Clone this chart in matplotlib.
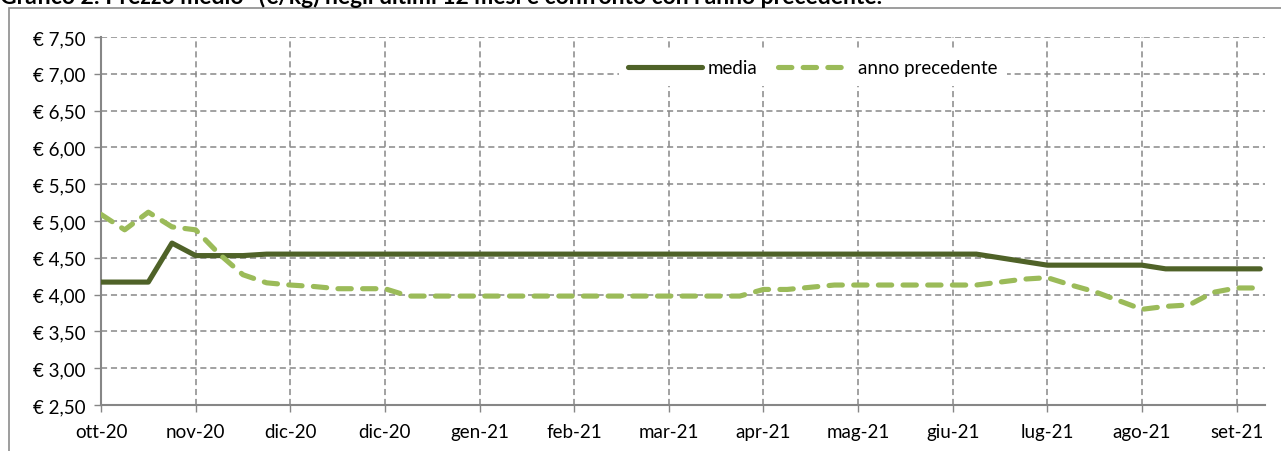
import numpy as np
import matplotlib.pyplot as plt
from matplotlib.patches import Rectangle

# weekly average price (EUR/kg), last 12 months vs previous year
media = [4.17, 4.17, 4.17, 4.70, 4.53, 4.53, 4.53, 4.55, 4.55, 4.55,
         4.55, 4.55, 4.55, 4.55, 4.55, 4.55, 4.55, 4.55, 4.55, 4.55,
         4.55, 4.55, 4.55, 4.55, 4.55, 4.55, 4.55, 4.55, 4.55, 4.55,
         4.55, 4.55, 4.55, 4.55, 4.55, 4.55, 4.55, 4.55, 4.50, 4.45,
         4.40, 4.40, 4.40, 4.40, 4.40, 4.35, 4.35, 4.35, 4.35, 4.35]
anno_precedente = [5.09, 4.88, 5.12, 4.92, 4.88, 4.55, 4.27, 4.16, 4.13, 4.11,
                   4.08, 4.08, 4.08, 3.98, 3.98, 3.98, 3.98, 3.98, 3.98, 3.98,
                   3.98, 3.98, 3.98, 3.98, 3.98, 3.98, 3.98, 3.98, 4.07, 4.07,
                   4.10, 4.13, 4.13, 4.13, 4.13, 4.13, 4.13, 4.13, 4.17, 4.21,
                   4.23, 4.13, 4.04, 3.92, 3.80, 3.84, 3.86, 4.03, 4.09, 4.09]
tick_labels = ["ott-20", "nov-20", "dic-20", "dic-20", "gen-21", "feb-21", "mar-21",
               "apr-21", "mag-21", "giu-21", "lug-21", "ago-21", "set-21"]
y_ticks = np.arange(2.5, 7.51, 0.5)

plt.rcParams["font.family"] = ["Lato", "DejaVu Sans"]

fig = plt.figure(figsize=(12.81, 4.52), dpi=100)
ax = fig.add_axes([101 / 1281, 1 - 406 / 452, (1265 - 101) / 1281, (406 - 38) / 452])

# chart frame and title (clipped at the top, as in the source page)
fig.patches.append(Rectangle((9 / 1281, -0.1), 1.1, 1 - 9 / 452 + 0.1, transform=fig.transFigure,
                             fill=False, edgecolor="#8c8c8c", linewidth=1.2))
fig.text(0.0, 1 - 4 / 452, "Grafico 2: Prezzo medio* (€/kg) negli ultimi 12 mesi e confronto con l'anno precedente.",
         fontsize=16.5, fontweight="bold", color="black", va="baseline", ha="left")

x = np.arange(len(media))
ax.plot(x, media, color="#4f6228", linewidth=3.7, solid_capstyle="round",
        solid_joinstyle="round", label="media", zorder=3)
ax.plot(x, anno_precedente, color="#9bbb59", linewidth=3.7, linestyle=(0, (2.6, 2.2)),
        dash_capstyle="round", label="anno precedente", zorder=3)

ax.set_xlim(0, len(media) - 0.8)
ax.set_ylim(2.5, 7.5)
ax.set_xticks(np.arange(0, len(media), 4))
ax.set_xticklabels(tick_labels)
ax.set_yticks(y_ticks)
ax.set_yticklabels(["€ " + f"{v:.2f}".replace(".", ",") for v in y_ticks])

grid_kw = dict(color="#878787", linewidth=1.1, linestyle=(0, (4, 2.5)))
ax.grid(True, **grid_kw)
ax.set_axisbelow(True)
for side in ["top", "right"]:
    ax.spines[side].set_visible(False)
for side in ["left", "bottom"]:
    ax.spines[side].set_color("#868686")
    ax.spines[side].set_linewidth(1.5)
ax.tick_params(axis="both", colors="#868686", labelcolor="black", labelsize=13.5, length=5, width=1)
ax.tick_params(axis="x", pad=8)
ax.tick_params(axis="y", pad=6)

leg = ax.legend(loc="upper left", bbox_to_anchor=(0.437, 0.99), ncol=2, frameon=True,
                fontsize=13.5, handlelength=3.9, handletextpad=0.35, columnspacing=1.1,
                borderpad=0.5)
leg.get_frame().set_facecolor("white")
leg.get_frame().set_edgecolor("none")
leg.get_frame().set_alpha(1)

fig.savefig("out.png", dpi=100)
